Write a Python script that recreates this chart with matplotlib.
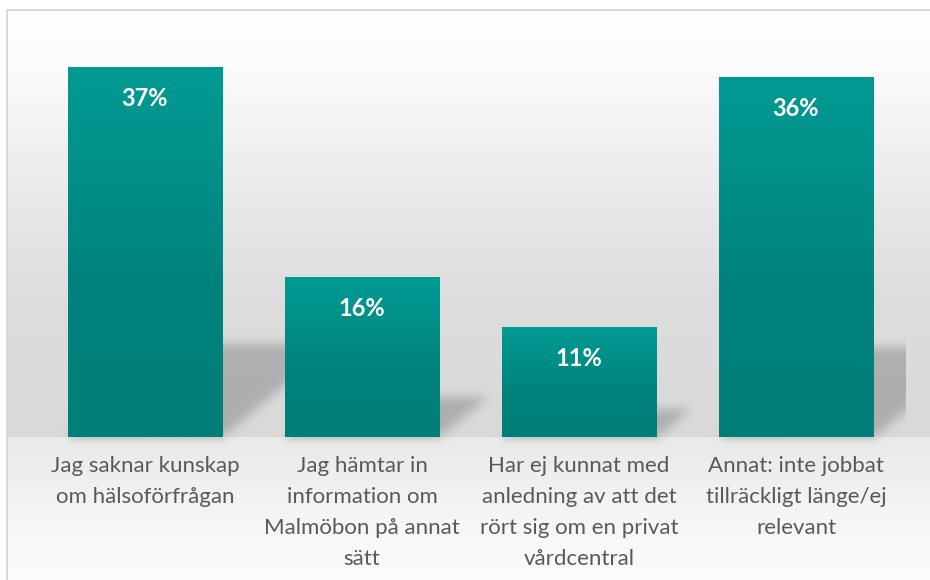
import numpy as np
import matplotlib.pyplot as plt
from matplotlib.colors import LinearSegmentedColormap

# Data
categories = [
    "Jag saknar kunskap\nom hälsoförfrågan",
    "Jag hämtar in\ninformation om\nMalmöbon på annat\nsätt",
    "Har ej kunnat med\nanledning av att det\nrört sig om en privat\nvårdcentral",
    "Annat: inte jobbat\ntillräckligt länge/ej\nrelevant",
]
values = [37, 16, 11, 36]
value_labels = ["37%", "16%", "11%", "36%"]

W, H = 930, 580
FONT = ["Lato", "DejaVu Sans"]
TEAL = LinearSegmentedColormap.from_list(
    "teal", [(0.0, "#007e78"), (0.4, "#00827c"), (1.0, "#009b94")])


def blur(a, sigma):
    """Flou gaussien séparable, fait à la main (pas de scipy)."""
    r = int(3 * sigma)
    k = np.exp(-0.5 * (np.arange(-r, r + 1) / sigma) ** 2)
    k /= k.sum()
    p = np.pad(a, r, mode="edge")
    tmp = np.zeros((a.shape[0] + 2 * r, a.shape[1]))
    for i, w in enumerate(k):
        tmp += w * p[:, i:i + a.shape[1]]
    out = np.zeros_like(a, dtype=float)
    for i, w in enumerate(k):
        out += w * tmp[i:i + a.shape[0], :]
    return out


fig = plt.figure(figsize=(W / 100, H / 100), dpi=100)
bg_ax = fig.add_axes([0, 0, 1, 1], zorder=0)
bg_ax.set_axis_off()

ax = fig.add_axes([36.5 / W, (H - 437) / H, 868 / W, 400 / H], zorder=1)
ax.patch.set_alpha(0)
x = np.arange(len(values))
bars = ax.bar(x, values, width=0.714, color="#008b84", edgecolor="none", zorder=3)
ax.set_xlim(-0.5, len(values) - 0.5)
ax.set_ylim(0, 40)

# dégradé vertical dans chaque barre
grad = np.linspace(0, 1, 256).reshape(-1, 1)
for b in bars:
    im = ax.imshow(grad, cmap=TEAL, origin="lower", aspect="auto", zorder=4,
                   extent=[b.get_x(), b.get_x() + b.get_width(), 0, b.get_height()])
    im.set_clip_path(b)

# étiquettes de valeur
for b, lab in zip(bars, value_labels):
    ax.annotate(lab, (b.get_x() + b.get_width() / 2, b.get_height()),
                xytext=(0, -32), textcoords="offset pixels", ha="center", va="center",
                color="white", fontsize=17, fontweight="bold", family=FONT, zorder=5)

ax.set_xticks(x, categories)
ax.tick_params(axis="x", length=0, pad=14, labelsize=16, labelcolor="#595959")
for t in ax.get_xticklabels():
    t.set_family(FONT)
    t.set_linespacing(1.67)
ax.set_yticks([])
for s in ax.spines.values():
    s.set_visible(False)

# Fond : mur (dégradé blanc -> gris) puis sol, ombres portées des barres
yy, xx = np.mgrid[0:H, 0:W] + 0.5           # coordonnées d'affichage (origine en bas)
ytop = H - yy                                # distance depuis le haut
wall = np.interp(ytop, [10, 60, 150, 220, 300, 437], [255, 252, 240, 230, 221, 217])
floor = np.interp(ytop, [437, 470, 520, 580], [233, 238, 246, 252])
bg = np.where(ytop < 437, wall, floor)

ax_right = ax.transAxes.transform((1, 0))[0]
shadow = np.zeros((H, W))
foot = np.zeros((H, W))
k = 1.2
for b in bars:
    (x0, y0) = ax.transData.transform((b.get_x(), 0))
    (x1, y1) = ax.transData.transform((b.get_x() + b.get_width(), b.get_height()))
    hs = 0.25 * (y1 - y0)
    dy = yy - y0
    m = (dy >= 0) & (dy <= hs) & (xx >= x0 + k * dy) & (xx <= x1 + k * dy)
    shadow = np.maximum(shadow, m)
    f = (dy >= -4) & (dy <= 0) & (xx >= x0) & (xx <= x1 + 2)
    foot = np.maximum(foot, f)
shadow = blur(shadow.astype(float), 5)
shadow[xx > ax_right] = 0
foot = blur(foot.astype(float), 1.5)
bg = bg * (1 - 0.2 * shadow) * (1 - 0.05 * foot)

# cadre gris clair (haut et gauche)
bg[ytop < 9] = 255
bg[xx < 6] = 255
bg[(ytop >= 9) & (ytop < 11) & (xx >= 6)] = 217
bg[(xx >= 6) & (xx < 8) & (ytop >= 9)] = 217

img = np.clip(bg, 0, 255).astype(np.uint8)
bg_ax.imshow(np.dstack([img] * 3), origin="lower", extent=[0, W, 0, H],
             aspect="auto", interpolation="nearest")
bg_ax.set_xlim(0, W)
bg_ax.set_ylim(0, H)

fig.savefig("out.png", dpi=100)
